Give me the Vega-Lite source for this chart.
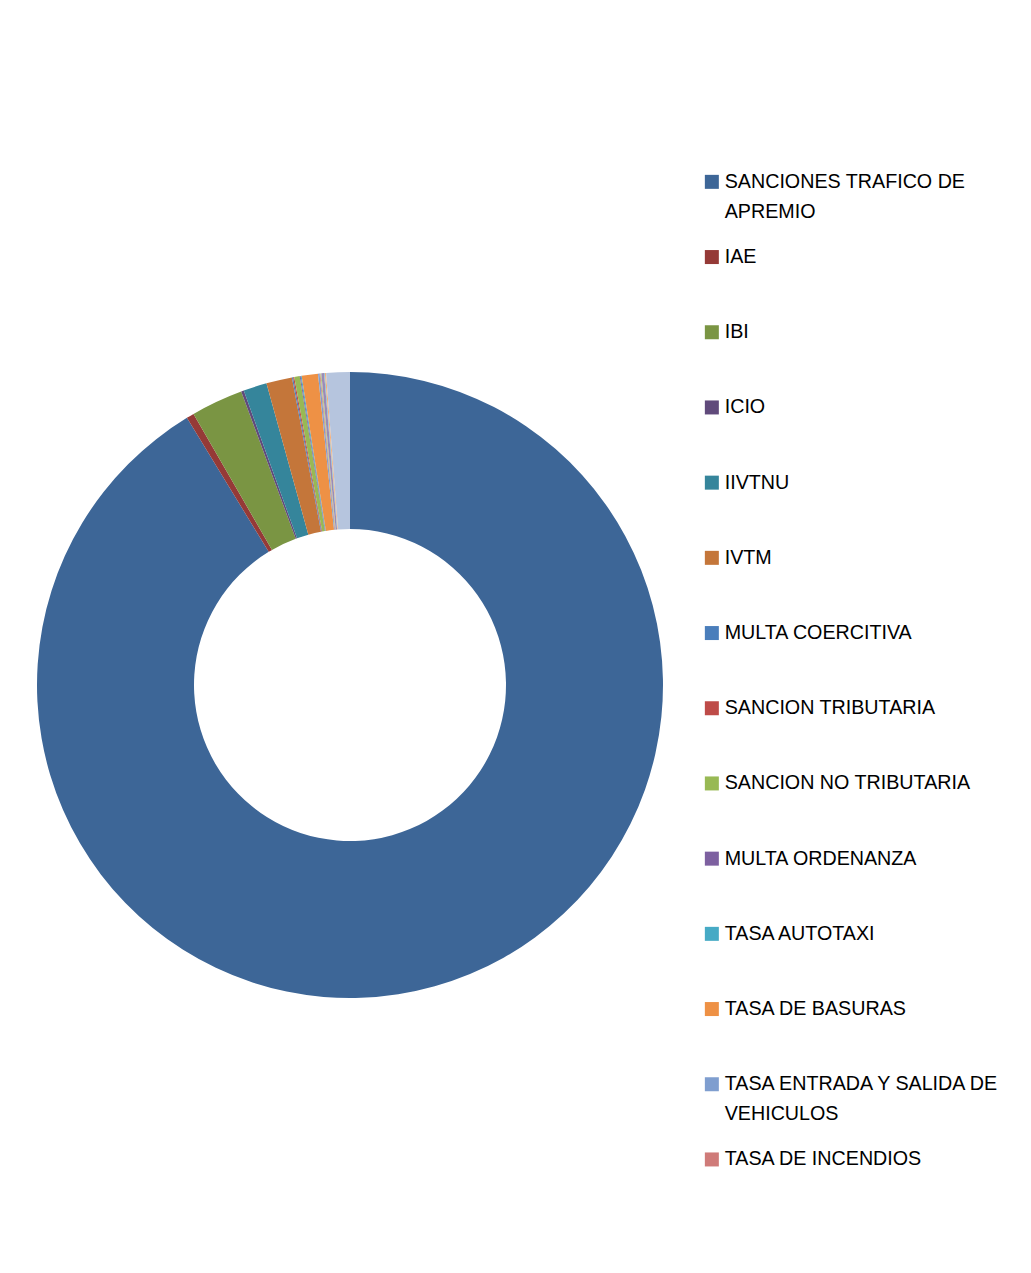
{
  "$schema": "https://vega.github.io/schema/vega-lite/v6.json",
  "autosize": {"type": "pad"},
  "padding": 0,
  "width": 700,
  "height": 1370,
  "background": "white",
  "config": {
    "view": {"stroke": null},
    "style": {"guide-label": {"lineHeight": 30}}
  },
  "data": {
    "values": [
      {"concepto": "SANCIONES TRAFICO DE APREMIO", "orden": 1, "valor": 91.25},
      {"concepto": "IAE", "orden": 2, "valor": 0.39},
      {"concepto": "IBI", "orden": 3, "valor": 2.68},
      {"concepto": "ICIO", "orden": 4, "valor": 0.14},
      {"concepto": "IIVTNU", "orden": 5, "valor": 1.21},
      {"concepto": "IVTM", "orden": 6, "valor": 1.33},
      {"concepto": "MULTA COERCITIVA", "orden": 7, "valor": 0.06},
      {"concepto": "SANCION TRIBUTARIA", "orden": 8, "valor": 0.06},
      {"concepto": "SANCION NO TRIBUTARIA", "orden": 9, "valor": 0.28},
      {"concepto": "MULTA ORDENANZA", "orden": 10, "valor": 0.05},
      {"concepto": "TASA AUTOTAXI", "orden": 11, "valor": 0.05},
      {"concepto": "TASA DE BASURAS", "orden": 12, "valor": 0.84},
      {"concepto": "TASA ENTRADA Y SALIDA DE VEHICULOS", "orden": 13, "valor": 0.08},
      {"concepto": "TASA DE INCENDIOS", "orden": 14, "valor": 0.04},
      {"concepto": "OTROS 15", "orden": 15, "valor": 0.05},
      {"concepto": "OTROS 16", "orden": 16, "valor": 0.14},
      {"concepto": "OTROS 17", "orden": 17, "valor": 0.04},
      {"concepto": "OTROS 18", "orden": 18, "valor": 0.06},
      {"concepto": "OTROS 19", "orden": 19, "valor": 1.22}
    ]
  },
  "mark": {"type": "arc", "innerRadius": 156, "outerRadius": 313, "stroke": null},
  "encoding": {
    "theta": {"field": "valor", "type": "quantitative", "stack": true},
    "order": {"field": "orden", "type": "quantitative"},
    "color": {
      "field": "concepto",
      "type": "nominal",
      "scale": {
        "domain": ["SANCIONES TRAFICO DE APREMIO", "IAE", "IBI", "ICIO", "IIVTNU", "IVTM", "MULTA COERCITIVA", "SANCION TRIBUTARIA", "SANCION NO TRIBUTARIA", "MULTA ORDENANZA", "TASA AUTOTAXI", "TASA DE BASURAS", "TASA ENTRADA Y SALIDA DE VEHICULOS", "TASA DE INCENDIOS", "OTROS 15", "OTROS 16", "OTROS 17", "OTROS 18", "OTROS 19"],
        "range": ["#3D6697", "#953A37", "#7A9543", "#604A7B", "#35859B", "#C4763A", "#4A7EBB", "#BE4B48", "#98B954", "#7D60A0", "#46AAC5", "#EE9145", "#7F9ECF", "#CF7B79", "#B3CC82", "#9C8AB7", "#7BC0D6", "#F9B07A", "#B6C5DE"]
      },
      "legend": {
        "values": ["SANCIONES TRAFICO DE APREMIO", "IAE", "IBI", "ICIO", "IIVTNU", "IVTM", "MULTA COERCITIVA", "SANCION TRIBUTARIA", "SANCION NO TRIBUTARIA", "MULTA ORDENANZA", "TASA AUTOTAXI", "TASA DE BASURAS", "TASA ENTRADA Y SALIDA DE VEHICULOS", "TASA DE INCENDIOS"],
        "title": null,
        "orient": "none",
        "legendX": 702,
        "legendY": 172,
        "padding": 0,
        "symbolType": "square",
        "symbolSize": 196,
        "symbolStrokeWidth": 0,
        "symbolOpacity": 1,
        "labelFont": "Liberation Sans",
        "labelFontSize": 19.7,
        "labelColor": "#000000",
        "labelOffset": 3,
        "labelLimit": 400,
        "gridAlign": "all",
        "rowPadding": 24.2,
        "labelExpr": "datum.label == 'SANCIONES TRAFICO DE APREMIO' ? ['SANCIONES TRAFICO DE', 'APREMIO'] : datum.label == 'TASA ENTRADA Y SALIDA DE VEHICULOS' ? ['TASA ENTRADA Y SALIDA DE', 'VEHICULOS'] : datum.label"
      }
    }
  }
}
